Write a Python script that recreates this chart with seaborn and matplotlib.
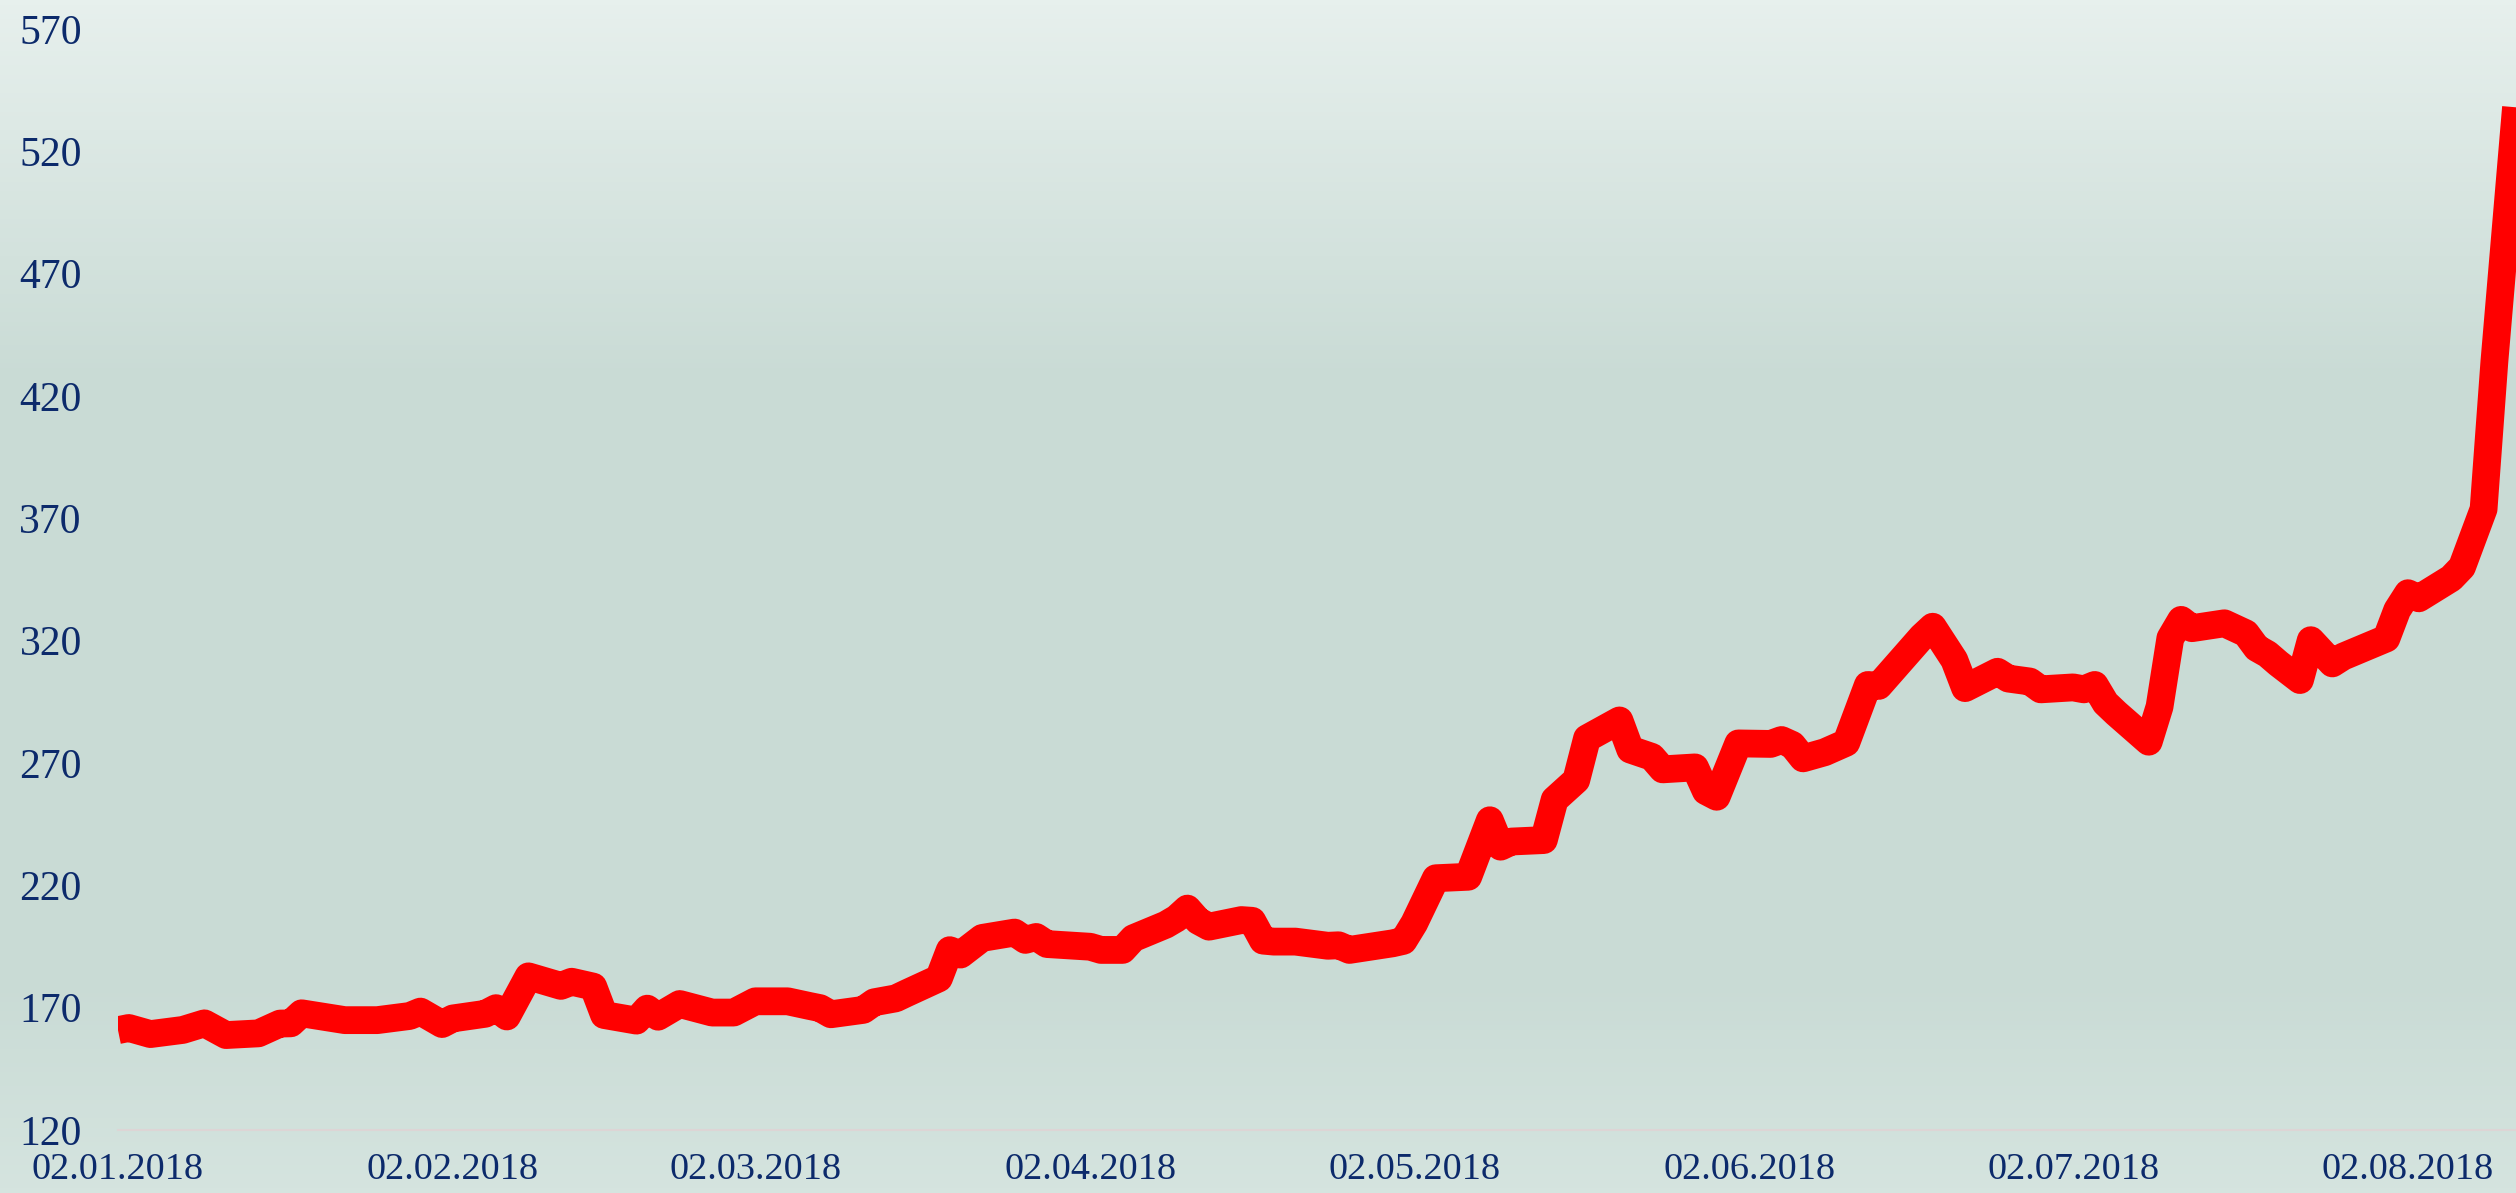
import numpy as np
import pandas as pd
import matplotlib
matplotlib.use("Agg")
import matplotlib.pyplot as plt
import seaborn as sns
from matplotlib.colors import LinearSegmentedColormap

# values (vertices of the line)
dates = [
    "2018-01-02", "2018-01-03", "2018-01-05", "2018-01-08", "2018-01-10", "2018-01-12",
    "2018-01-15", "2018-01-17", "2018-01-18", "2018-01-19", "2018-01-23", "2018-01-26",
    "2018-01-29", "2018-01-30", "2018-02-01", "2018-02-02", "2018-02-05", "2018-02-06",
    "2018-02-07", "2018-02-09", "2018-02-12", "2018-02-13", "2018-02-15", "2018-02-16",
    "2018-02-19", "2018-02-20", "2018-02-21", "2018-02-23", "2018-02-26", "2018-02-28",
    "2018-03-02", "2018-03-05", "2018-03-07", "2018-03-08", "2018-03-09", "2018-03-12",
    "2018-03-13", "2018-03-15", "2018-03-16", "2018-03-19", "2018-03-20", "2018-03-21",
    "2018-03-23", "2018-03-26", "2018-03-27", "2018-03-28", "2018-03-29", "2018-04-02",
    "2018-04-03", "2018-04-05", "2018-04-06", "2018-04-09", "2018-04-10", "2018-04-11",
    "2018-04-12", "2018-04-13", "2018-04-16", "2018-04-17", "2018-04-18", "2018-04-19",
    "2018-04-21", "2018-04-24", "2018-04-25", "2018-04-26", "2018-04-30", "2018-05-01",
    "2018-05-02", "2018-05-04", "2018-05-07", "2018-05-09", "2018-05-10", "2018-05-11",
    "2018-05-14", "2018-05-15", "2018-05-17", "2018-05-18", "2018-05-21", "2018-05-22",
    "2018-05-24", "2018-05-25", "2018-05-28", "2018-05-29", "2018-05-30", "2018-06-01",
    "2018-06-04", "2018-06-05", "2018-06-06", "2018-06-07", "2018-06-09", "2018-06-11",
    "2018-06-13", "2018-06-14", "2018-06-18", "2018-06-19", "2018-06-21", "2018-06-22",
    "2018-06-25", "2018-06-26", "2018-06-28", "2018-06-29", "2018-07-02", "2018-07-03",
    "2018-07-04", "2018-07-05", "2018-07-06", "2018-07-09", "2018-07-10", "2018-07-11",
    "2018-07-12", "2018-07-13", "2018-07-16", "2018-07-18", "2018-07-19", "2018-07-20",
    "2018-07-21", "2018-07-23", "2018-07-24", "2018-07-26", "2018-07-27", "2018-07-31",
    "2018-08-01", "2018-08-02", "2018-08-03", "2018-08-06", "2018-08-07", "2018-08-09",
    "2018-08-10", "2018-08-12",
]
values = [
    160.8, 161.7, 159.2, 160.9, 163.6, 158.8,
    159.5, 163.5, 163.6, 167.7, 164.9, 164.9,
    166.6, 168.4, 163.3, 165.6, 167.5, 169.8,
    166.4, 182.8, 178.9, 180.6, 178.6, 167.0,
    164.7, 169.6, 166.3, 171.5, 168.0, 168.0,
    172.6, 172.6, 170.7, 169.8, 167.3, 169.1,
    172.2, 173.8, 175.9, 182.0, 193.5, 191.7,
    198.5, 200.7, 197.7, 198.9, 196.0, 194.9,
    193.6, 193.6, 198.4, 203.9, 206.5, 210.5,
    205.5, 203.1, 205.8, 205.5, 197.4, 197.0,
    197.0, 195.3, 195.5, 193.6, 196.3, 197.3,
    204.5, 222.9, 223.5, 246.6, 235.8, 237.9,
    238.5, 255.0, 263.0, 280.1, 287.4, 275.5,
    272.5, 267.4, 268.2, 258.5, 256.2, 278.0,
    277.8, 279.4, 277.4, 271.9, 274.4, 278.3,
    301.9, 301.5, 321.6, 325.7, 312.1, 300.6,
    307.3, 304.5, 303.3, 300.1, 300.9, 300.1,
    301.9, 294.5, 290.3, 278.7, 293.0, 321.0,
    328.5, 325.1, 327.1, 323.0, 317.0, 314.5,
    310.7, 303.9, 320.2, 310.7, 313.5, 320.9,
    332.5, 339.4, 337.3, 345.5, 350.1, 373.8,
    434.1, 538.0,
]
tick_dates = ["2018-01-02", "2018-02-02", "2018-03-02", "2018-04-02",
              "2018-05-02", "2018-06-02", "2018-07-02", "2018-08-02"]
tick_labels = ["02.01.2018", "02.02.2018", "02.03.2018", "02.04.2018",
               "02.05.2018", "02.06.2018", "02.07.2018", "02.08.2018"]
y_ticks = [120, 170, 220, 270, 320, 370, 420, 470, 520, 570]

df = pd.DataFrame({"date": pd.to_datetime(dates), "value": values})

sns.set_theme(style="white")
plt.rcParams["font.family"] = ["Liberation Serif", "DejaVu Serif"]

fig = plt.figure(figsize=(25.16, 11.93), dpi=100)

# background gradient over the whole figure
bg = fig.add_axes([0, 0, 1, 1], zorder=0)
cmap = LinearSegmentedColormap.from_list(
    "bg", [(0.0, "#e7f0ed"), (0.32, "#c9dbd5"), (0.82, "#c9dbd5"), (1.0, "#d5e4df")])
bg.imshow(np.linspace(0, 1, 256).reshape(-1, 1), aspect="auto", cmap=cmap,
          extent=[0, 1, 0, 1], origin="upper")
bg.set_axis_off()

ax = fig.add_axes([118 / 2516, 1 - 1130 / 1193, (2516 - 118) / 2516, (1130 - 29) / 1193],
                  zorder=1)
ax.set_facecolor("none")

sns.lineplot(data=df, x="date", y="value", color="#ff0000", linewidth=20,
             solid_joinstyle="round", solid_capstyle="butt", ax=ax)

ax.set_xlim(df["date"].iloc[0], df["date"].iloc[-1])
ax.set_ylim(120, 570)
ax.set_yticks(y_ticks)
ax.set_xticks(pd.to_datetime(tick_dates))
ax.set_xticklabels(tick_labels)
ax.set_xlabel("")
ax.set_ylabel("")

txt = "#0c2a6b"
ax.tick_params(axis="y", length=0, pad=26, labelsize=30, labelcolor=txt)
ax.tick_params(axis="x", length=0, pad=16, labelsize=27.5, labelcolor=txt)

for s in ["top", "right", "left"]:
    ax.spines[s].set_visible(False)
ax.spines["bottom"].set_color("#ddd5d5")
ax.spines["bottom"].set_linewidth(1.5)
ax.grid(False)

fig.savefig("out.png", dpi=100)
